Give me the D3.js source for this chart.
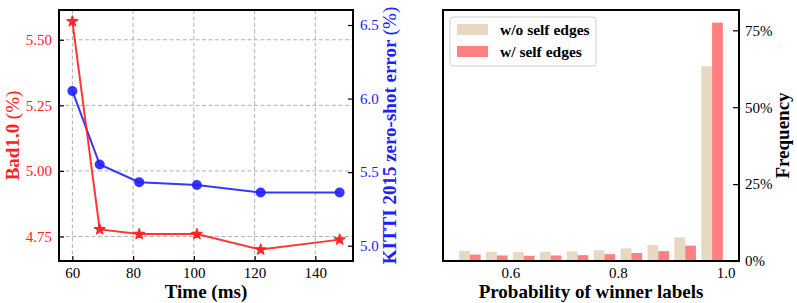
<!DOCTYPE html>
<html>
<head>
<meta charset="utf-8">
<script src="https://d3js.org/d3.v7.min.js"></script>
<style>
  body { margin: 0; background: #fff; }
  svg { display: block; font-family: 'Liberation Serif', 'Times New Roman', serif; }
</style>
</head>
<body>
<svg id="chart" width="797" height="303"></svg>
<script>
// left panel: time vs error
const timeMs = [60, 69, 82, 101, 122, 148]
const bad1 = [5.57, 4.777, 4.759, 4.759, 4.70, 4.738]
const kittiErr = [6.052, 5.552, 5.432, 5.412, 5.361, 5.361]
const timeTicks = [60, 80, 100, 120, 140]
const badTicks = [4.75, 5.0, 5.25, 5.5]
const kittiTicks = [5.0, 5.5, 6.0, 6.5]

// right panel: histogram of winner label probability
const binEdges = [0.5, 0.55, 0.6, 0.65, 0.7, 0.75, 0.8, 0.85, 0.9, 0.95]
const binWidth = 0.05
const freqNoSelf = [0.033, 0.030, 0.029, 0.030, 0.031, 0.035, 0.041, 0.052, 0.077, 0.633]
const freqSelf = [0.021, 0.018, 0.017, 0.018, 0.019, 0.022, 0.026, 0.032, 0.050, 0.775]
const probTicks = [0.6, 0.8, 1.0]
const freqTicks = [0, 0.25, 0.5, 0.75]
const seriesNames = ['w/o self edges', 'w/ self edges']

const RED = '#ff2020'
const BLUE = '#2020ff'
const svg = d3.select('#chart')

const plotTop = 10
const plotBottom = 261
const tickFont = 15
const labelFont = 19

// ---------- left panel ----------
const x1 = d3.scaleLinear().domain([55.6, 152.4]).range([59, 353])
const yBad = d3.scaleLinear().domain([4.6565, 5.6135]).range([plotBottom, plotTop])
const yKitti = d3.scaleLinear().domain([4.896, 6.602]).range([plotBottom, plotTop])

const left = svg.append('g')

// grid
left.append('g').selectAll('line').data(timeTicks).join('line')
  .attr('x1', d => x1(d)).attr('x2', d => x1(d))
  .attr('y1', plotTop).attr('y2', plotBottom)
  .attr('stroke', '#b0b0b0').attr('stroke-width', 1).attr('stroke-dasharray', '4,2.5')
left.append('g').selectAll('line').data(badTicks).join('line')
  .attr('x1', x1.range()[0]).attr('x2', x1.range()[1])
  .attr('y1', d => yBad(d)).attr('y2', d => yBad(d))
  .attr('stroke', '#b0b0b0').attr('stroke-width', 1).attr('stroke-dasharray', '4,2.5')

// axes, ticks inward
const axB = left.append('g').attr('transform', `translate(0,${plotBottom})`)
  .call(d3.axisTop(x1).tickValues(timeTicks).tickSize(5).tickFormat(d3.format('d')))
axB.selectAll('text').attr('y', 17).attr('dy', 0)
const axL = left.append('g').attr('transform', `translate(${x1.range()[0]},0)`)
  .call(d3.axisRight(yBad).tickValues(badTicks).tickSize(5).tickFormat(d3.format('.2f')))
axL.selectAll('text').attr('x', -7).attr('text-anchor', 'end').attr('fill', RED)
const axR = left.append('g').attr('transform', `translate(${x1.range()[1]},0)`)
  .call(d3.axisLeft(yKitti).tickValues(kittiTicks).tickSize(5).tickFormat(d3.format('.1f')))
axR.selectAll('text').attr('x', 7).attr('text-anchor', 'start').attr('fill', BLUE)
;[axB, axL, axR].forEach(a => {
  a.select('.domain').remove()
  a.selectAll('line').attr('stroke', '#000').attr('stroke-width', 1.2)
  a.selectAll('text').attr('font-size', tickFont).attr('font-family', 'Liberation Serif')
})

// lines
const lineRed = d3.line().x((d, i) => x1(timeMs[i])).y(d => yBad(d))
const lineBlue = d3.line().x((d, i) => x1(timeMs[i])).y(d => yKitti(d))
left.append('path').datum(kittiErr).attr('d', lineBlue)
  .attr('fill', 'none').attr('stroke', BLUE).attr('stroke-width', 2).attr('opacity', 0.9)
left.append('g').selectAll('circle').data(kittiErr).join('circle')
  .attr('cx', (d, i) => x1(timeMs[i])).attr('cy', d => yKitti(d)).attr('r', 5)
  .attr('fill', BLUE).attr('opacity', 0.9)
left.append('path').datum(bad1).attr('d', lineRed)
  .attr('fill', 'none').attr('stroke', RED).attr('stroke-width', 2).attr('opacity', 0.9)
left.append('g').selectAll('path').data(bad1).join('path')
  .attr('d', d3.symbol(d3.symbolStar, 36))
  .attr('transform', (d, i) => `translate(${x1(timeMs[i])},${yBad(d)})`)
  .attr('fill', RED).attr('stroke', RED).attr('stroke-width', 1.2)
  .attr('stroke-linejoin', 'round').attr('opacity', 0.95)

// frame
left.append('rect')
  .attr('x', x1.range()[0]).attr('y', plotTop)
  .attr('width', x1.range()[1] - x1.range()[0]).attr('height', plotBottom - plotTop)
  .attr('fill', 'none').attr('stroke', '#000').attr('stroke-width', 2)

// labels
left.append('text').attr('x', (x1.range()[0] + x1.range()[1]) / 2).attr('y', 298)
  .attr('text-anchor', 'middle').attr('font-size', labelFont).attr('font-weight', 'bold')
  .text('Time (ms)')
left.append('text').attr('transform', `translate(19,${(plotTop + plotBottom) / 2}) rotate(-90)`)
  .attr('text-anchor', 'middle').attr('font-size', labelFont).attr('fill', RED)
  .call(t => {
    t.append('tspan').attr('font-weight', 'bold').text('Bad1.0 ')
    t.append('tspan').text('(%)')
  })
left.append('text').attr('transform', `translate(396,${(plotTop + plotBottom) / 2}) rotate(-90)`)
  .attr('text-anchor', 'middle').attr('font-size', labelFont).attr('fill', BLUE)
  .call(t => {
    t.append('tspan').attr('font-weight', 'bold').text('KITTI 2015 zero-shot error ')
    t.append('tspan').text('(%)')
  })

// ---------- right panel ----------
const x2 = d3.scaleLinear().domain([0.475, 1.025]).range([443, 739])
const yF = d3.scaleLinear().domain([0, 0.816]).range([plotBottom, plotTop])
const colors = ['#e8d8c2', '#ff8080']

const right = svg.append('g')
const series = [freqNoSelf, freqSelf]
series.forEach((vals, s) => {
  right.append('g').selectAll('rect').data(vals).join('rect')
    .attr('x', (d, i) => x2(binEdges[i] + binWidth * (0.1 + 0.4 * s)))
    .attr('width', (d, i) => x2(binEdges[i] + binWidth * 0.4) - x2(binEdges[i]))
    .attr('y', d => yF(d))
    .attr('height', d => yF(0) - yF(d))
    .attr('fill', colors[s])
})

const axB2 = right.append('g').attr('transform', `translate(0,${plotBottom})`)
  .call(d3.axisTop(x2).tickValues(probTicks).tickSize(0).tickFormat(d3.format('.1f')))
axB2.selectAll('text').attr('y', 17).attr('dy', 0)
const axR2 = right.append('g').attr('transform', `translate(${x2.range()[1]},0)`)
  .call(d3.axisLeft(yF).tickValues(freqTicks).tickSize(6).tickFormat(d3.format('.0%')))
axR2.selectAll('text').attr('x', 6).attr('text-anchor', 'start')
;[axB2, axR2].forEach(a => {
  a.select('.domain').remove()
  a.selectAll('line').attr('stroke', '#000').attr('stroke-width', 1.2)
  a.selectAll('text').attr('font-size', tickFont).attr('font-family', 'Liberation Serif').attr('fill', '#000')
})

right.append('rect')
  .attr('x', x2.range()[0]).attr('y', plotTop)
  .attr('width', x2.range()[1] - x2.range()[0]).attr('height', plotBottom - plotTop)
  .attr('fill', 'none').attr('stroke', '#000').attr('stroke-width', 2)

right.append('text').attr('x', (x2.range()[0] + x2.range()[1]) / 2).attr('y', 298)
  .attr('text-anchor', 'middle').attr('font-size', labelFont).attr('font-weight', 'bold')
  .text('Probability of winner labels')
right.append('text').attr('transform', `translate(789,${(plotTop + plotBottom) / 2}) rotate(-90)`)
  .attr('text-anchor', 'middle').attr('font-size', labelFont).attr('font-weight', 'bold')
  .text('Frequency')

// legend
const legend = right.append('g').attr('transform', 'translate(450,17)')
legend.append('rect').attr('width', 146).attr('height', 49).attr('rx', 3)
  .attr('fill', '#fff').attr('fill-opacity', 0.8).attr('stroke', '#d0d0d0').attr('stroke-width', 1)
seriesNames.forEach((name, s) => {
  legend.append('rect').attr('x', 7).attr('y', 7 + s * 22).attr('width', 31).attr('height', 11)
    .attr('fill', colors[s])
  legend.append('text').attr('x', 50).attr('y', 17.5 + s * 22)
    .attr('font-size', 15.5).attr('font-weight', 'bold').text(name)
})
</script>
</body>
</html>
